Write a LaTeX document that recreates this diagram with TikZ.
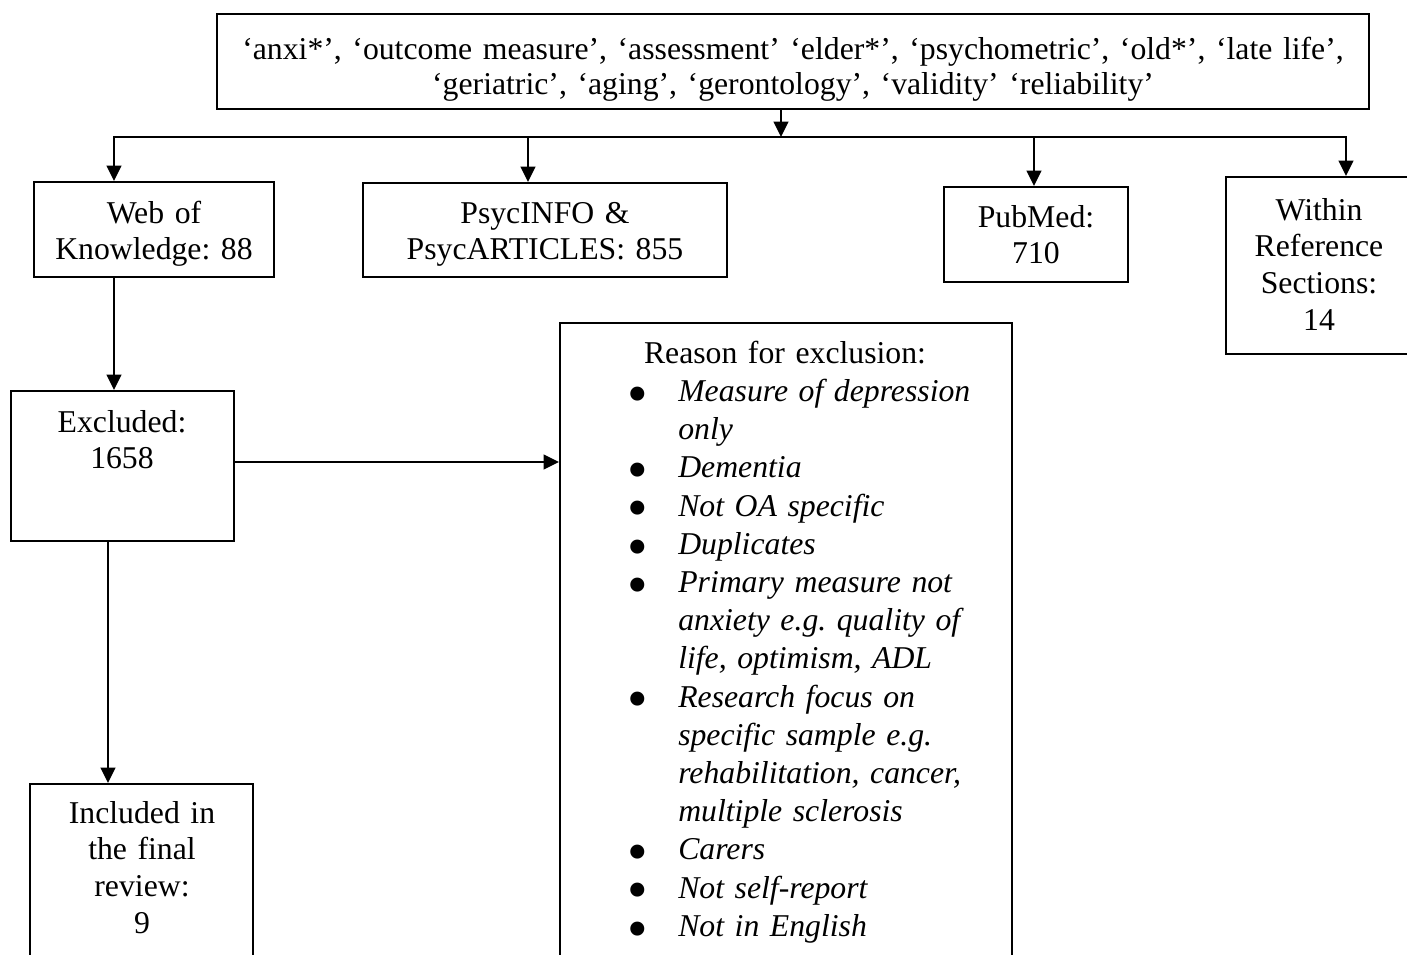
\documentclass[tikz,border=0pt]{standalone}
\usepackage{fontspec}
\setmainfont{Liberation Serif}
\usetikzlibrary{arrows.meta,fit}
\newcommand\blt{\makebox[36.75pt][l]{\upshape\hspace*{-1.5pt}\raisebox{-8.8pt}[0pt][0pt]{\fontsize{44pt}{44pt}\selectfont •}}}
\newcommand\bind{\hspace*{36.75pt}}
\begin{document}
\frenchspacing
\begin{tikzpicture}[x=0.75pt,y=-0.75pt,
  box/.style={draw,line width=1.5pt,inner sep=0pt},
  txt/.style={font=\fontsize{23.8pt}{27.6pt}\selectfont,align=center,inner sep=0pt,anchor=base,text width=#1},
  txt/.default=200pt,
  conn/.style={line width=1.5pt,line cap=rect},
  arr/.style={line width=1.5pt,-{Triangle[length=11.5pt,width=11pt]}}]
\useasboundingbox (0,0) rectangle (1407,954);
\clip (0,0) rectangle (1407,954);
\fill[white] (0,0) rectangle (1407,954);

% boxes
\node[box,fit={(217,14) (1369,109)}] (terms) {};
\node[box,fit={(34,182) (274,277)}] (wok) {};
\node[box,fit={(363,183) (727,277)}] (psyc) {};
\node[box,fit={(944,187) (1128,282)}] (pubmed) {};
\node[box,fit={(1226,177) (1414,354)}] (within) {};
\node[box,fit={(11,391) (234,541)}] (excl) {};
\node[box,fit={(560,323) (1012,975)}] (reason) {};
\node[box,fit={(30,784) (253,975)}] (incl) {};

% texts
\node[txt=855pt,font=\fontsize{23.8pt}{26.25pt}\selectfont] (termstxt) at (793,59)
  {‘anxi*’, ‘outcome measure’, ‘assessment’ ‘elder*’, ‘psychometric’, ‘old*’, ‘late life’,\\‘geriatric’, ‘aging’, ‘gerontology’, ‘validity’ ‘reliability’};
\node[txt=170pt] (woktxt) at (154,223) {Web of\\Knowledge: 88};
\node[txt=260pt] (psyctxt) at (545,223) {PsycINFO \&\\PsycARTICLES: 855};
\node[txt=130pt] (pubtxt) at (1036,227) {PubMed:\\710};
\node[txt=130pt] (withtxt) at (1319,220) {Within\\Reference\\Sections:\\14};
\node[txt=160pt] (excltxt) at (122,432) {Excluded:\\1658};
\node[txt=160pt] (incltxt) at (142,823) {Included in\\the final\\review:\\9};
\node[txt=300pt] (reasonhd) at (785,363.5) {Reason for exclusion:};
\node[txt=277.5pt,align=left,anchor=base west,font=\fontsize{23.8pt}{28.65pt}\selectfont\itshape] (reasonlist) at (629,401.5)
  {\blt Measure of depression\\
   \bind only\\
   \blt Dementia\\
   \blt Not OA specific\\
   \blt Duplicates\\
   \blt Primary measure not\\
   \bind anxiety e.g. quality of\\
   \bind life, optimism, ADL\\
   \blt Research focus on\\
   \bind specific sample e.g.\\
   \bind rehabilitation, cancer,\\
   \bind multiple sclerosis\\
   \blt Carers\\
   \blt Not self-report\\
   \blt Not in English};

% connectors
\coordinate (bl) at (114,137);
\coordinate (br) at (1346,137);
\coordinate (tx) at (781,0);
\coordinate (px) at (528,0);
\coordinate (mx) at (1034,0);
\coordinate (ey) at (0,462);
\coordinate (ix) at (108,0);
\draw[conn] (bl) -- (br);
\draw[arr] (terms.south -| tx) -- (bl -| tx);
\draw[arr] (bl) -- (wok.north -| bl);
\draw[arr] (bl -| px) -- (psyc.north -| px);
\draw[arr] (bl -| mx) -- (pubmed.north -| mx);
\draw[arr] (br) -- (within.north -| br);
\draw[arr] (wok.south -| bl) -- (excl.north -| bl);
\draw[arr] (excl.east |- ey) -- (reason.west |- ey);
\draw[arr] (excl.south -| ix) -- (incl.north -| ix);
\end{tikzpicture}
\end{document}
